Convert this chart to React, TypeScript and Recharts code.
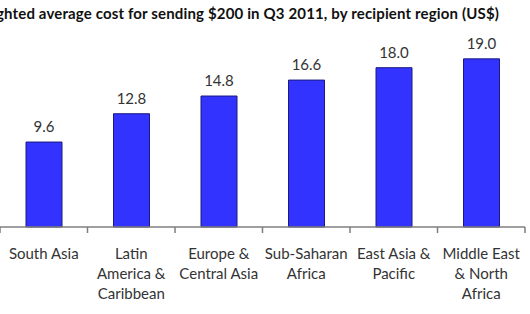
import { Bar, BarChart, LabelList, XAxis, YAxis } from "recharts";

const regions = [
  "South Asia",
  "Latin America & Caribbean",
  "Europe & Central Asia",
  "Sub-Saharan Africa",
  "East Asia & Pacific",
  "Middle East & North Africa",
];
const regionLines = [
  ["South Asia"],
  ["Latin", "America &", "Caribbean"],
  ["Europe &", "Central Asia"],
  ["Sub-Saharan", "Africa"],
  ["East Asia &", "Pacific"],
  ["Middle East", "& North", "Africa"],
];
const avgCost = [9.6, 12.8, 14.8, 16.6, 18.0, 19.0];

const data = regions.map((r, i) => ({ region: r, cost: avgCost[i], idx: i }));

const W = 530;
const H = 314;
const LEFT = 0;
const RIGHT = 5;
const BAND = (W - LEFT - RIGHT) / regions.length;
const FONT = "Lato, 'Open Sans', sans-serif";
const TEXT = "#333333";
const AXIS = "#7f7f7f";

function RegionTick(props: any) {
  const { x, y, payload, index } = props;
  const lines = regionLines[payload.index ?? index] ?? [payload.value];
  return (
    <g>
      {index === 0 ? (
        <line x1={x - BAND / 2} y1={y - 8} x2={x - BAND / 2} y2={y - 2} stroke={AXIS} strokeWidth={1.5} />
      ) : null}
      <line x1={x + BAND / 2} y1={y - 8} x2={x + BAND / 2} y2={y - 2} stroke={AXIS} strokeWidth={1.5} />
      <text x={x} y={y + 24} textAnchor="middle" fontSize={15} fill={TEXT} fontFamily={FONT}>
        {lines.map((l: string, i: number) => (
          <tspan key={i} x={x} dy={i === 0 ? 0 : 20}>
            {l}
          </tspan>
        ))}
      </text>
    </g>
  );
}

export default function App() {
  return (
    <div style={{ position: "absolute", left: 0, top: 0, width: W, height: H, background: "#fff", overflow: "hidden" }}>
      <BarChart
        width={W}
        height={H}
        data={data}
        margin={{ top: 50, right: RIGHT, bottom: 0, left: LEFT }}
        barCategoryGap="20%"
      >
        {/* the source image crops the start of the title, so it is anchored at its right end */}
        <text
          x={499}
          y={19}
          textAnchor="end"
          fontSize={15}
          fontWeight={700}
          fill="#111"
          fontFamily={FONT}
          letterSpacing={0.15}
        >
          Weighted average cost for sending $200  in Q3 2011,  by recipient region (US$)
        </text>
        <XAxis
          dataKey="region"
          interval={0}
          height={87}
          axisLine={{ stroke: AXIS, strokeWidth: 1.5 }}
          tickLine={false}
          tick={<RegionTick />}
        />
        <YAxis hide domain={[0, 20]} />
        <Bar dataKey="cost" fill="#3333ff" stroke="#1a1a80" strokeWidth={1} barSize={36} isAnimationActive={false}>
          <LabelList
            dataKey="cost"
            position="top"
            offset={10}
            formatter={(v: any) => Number(v).toFixed(1)}
            style={{ fontSize: 15, fill: TEXT, fontFamily: FONT }}
          />
        </Bar>
      </BarChart>
    </div>
  );
}
